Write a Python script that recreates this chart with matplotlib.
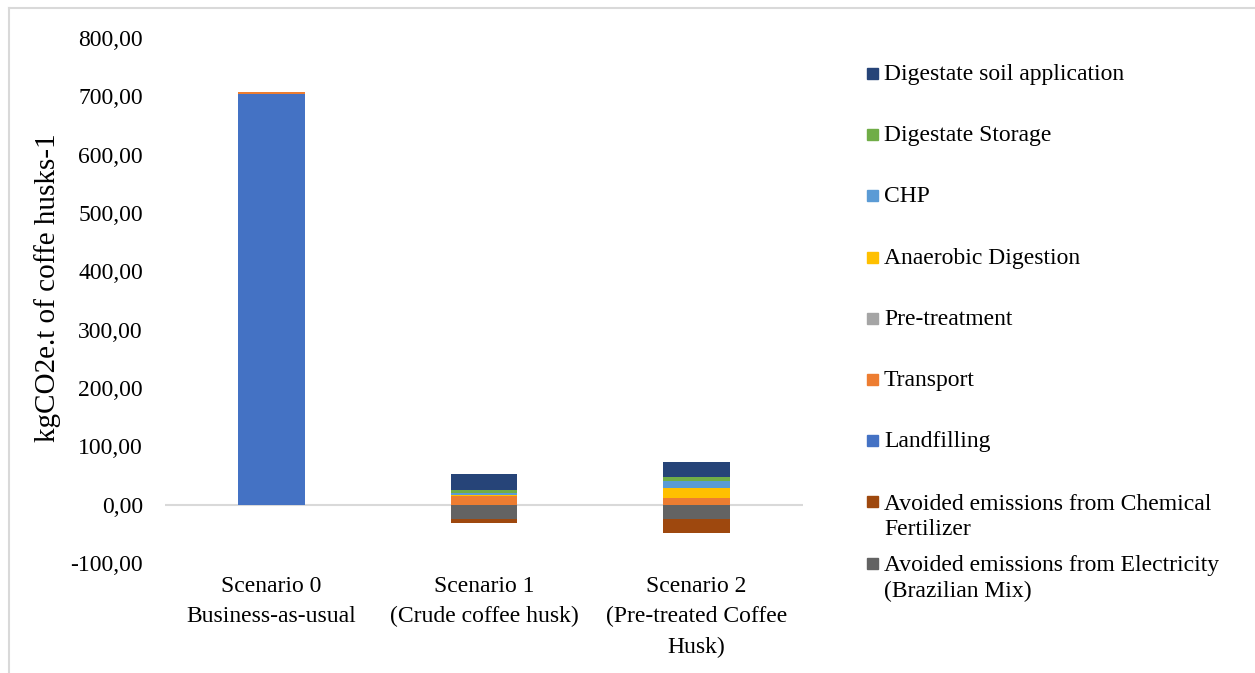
import matplotlib.pyplot as plt
from matplotlib.patches import Rectangle
from matplotlib.lines import Line2D
import numpy as np

plt.rcParams['font.family'] = ['Liberation Serif', 'DejaVu Serif']

scenarios = ["Scenario 0\nBusiness-as-usual",
             "Scenario 1\n(Crude coffee husk)",
             "Scenario 2\n(Pre-treated Coffee\nHusk)"]

# emission sources stacked above zero (bottom to top)
landfilling = [704.0, 0.0, 0.0]
transport = [3.0, 15.0, 11.7]
pre_treatment = [0.0, 0.0, 0.5]
anaerobic_digestion = [0.0, 2.4, 16.1]
chp = [0.0, 3.4, 13.0]
digestate_storage = [0.0, 5.1, 6.3]
digestate_soil = [0.0, 26.2, 26.2]

# avoided emissions stacked below zero (top to bottom)
avoided_electricity = [0.0, -25.0, -25.0]
avoided_fertilizer = [0.0, -5.7, -22.8]

positive = [
    ("Landfilling", landfilling, "#4472C4"),
    ("Transport", transport, "#ED7D31"),
    ("Pre-treatment", pre_treatment, "#A5A5A5"),
    ("Anaerobic Digestion", anaerobic_digestion, "#FFC000"),
    ("CHP", chp, "#5B9BD5"),
    ("Digestate Storage", digestate_storage, "#70AD47"),
    ("Digestate soil application", digestate_soil, "#264478"),
]
negative = [
    ("Avoided emissions from Electricity\n(Brazilian Mix)", avoided_electricity, "#636363"),
    ("Avoided emissions from Chemical\nFertilizer", avoided_fertilizer, "#9E480E"),
]

fig = plt.figure(figsize=(12.55, 6.73), dpi=100)
ax = fig.add_axes([0.1315, 0.1634, 0.5083, 0.7801])

x = np.arange(len(scenarios))
width = 0.315

colors = {}
bottom = np.zeros(len(scenarios))
for name, vals, color in positive:
    vals = np.array(vals)
    ax.bar(x, vals, width, bottom=bottom, color=color, label=name)
    colors[name] = color
    bottom += vals
bottom = np.zeros(len(scenarios))
for name, vals, color in negative:
    vals = np.array(vals)
    ax.bar(x, vals, width, bottom=bottom, color=color, label=name)
    colors[name] = color
    bottom += vals

ticks = np.arange(-100, 801, 100)
ax.set_xlim(-0.5, 2.5)
ax.set_ylim(-100, 800)
ax.set_yticks(ticks)
ax.set_yticklabels([f"{v:.2f}".replace(".", ",") for v in ticks])
ax.set_xticks(x)
ax.set_xticklabels(scenarios, fontsize=17, linespacing=1.6)
ax.tick_params(axis='both', length=0, labelsize=17)
ax.tick_params(axis='y', pad=16)
ax.tick_params(axis='x', pad=9)

for side in ['top', 'right', 'left', 'bottom']:
    ax.spines[side].set_visible(False)
ax.axhline(0, color="#D9D9D9", lw=1.5, zorder=0)

W, H = 1255, 673
fig.text(48 / W, 1 - 288 / H, "kgCO2e.t of coffe husks-1", fontsize=21,
         rotation=90, ha='center', va='center')

# legend drawn top to bottom in reverse series order
order = [p[0] for p in positive[::-1]] + [n[0] for n in negative[::-1]]
line_h = 27
y0 = 73
for i, name in enumerate(order):
    yc = y0 + i * 61.2
    extra = name.count("\n") * line_h
    fig.patches.append(Rectangle((867 / W, 1 - (yc + 6) / H), 11 / W, 11 / H,
                                 transform=fig.transFigure, color=colors[name]))
    fig.text(884 / W, 1 - (yc + 7 + extra) / H, name, fontsize=17, va='baseline',
             ha='left', linespacing=1.25)

# thin frame around the chart area
fig.add_artist(Line2D([9 / W, 9 / W], [0, 1 - 8 / H], color="#D9D9D9", lw=1.5,
                      transform=fig.transFigure))
fig.add_artist(Line2D([9 / W, 1], [1 - 8 / H, 1 - 8 / H], color="#D9D9D9", lw=1.5,
                      transform=fig.transFigure))

fig.savefig("out.png", dpi=100)
